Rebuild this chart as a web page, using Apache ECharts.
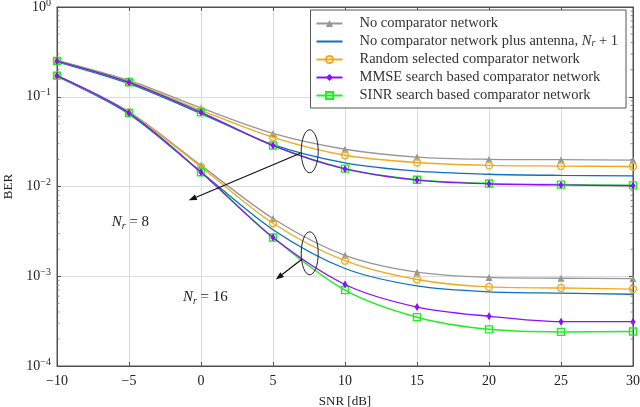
<!DOCTYPE html>
<html>
<head>
<meta charset="utf-8">
<script src="https://cdn.jsdelivr.net/npm/echarts@6/dist/echarts.min.js"></script>
<style>
html, body { margin: 0; padding: 0; background: #fff; }
#chart { width: 640px; height: 407px; }
</style>
</head>
<body>
<div id="chart"></div>
<script>
// SNR points (dB)
let snr = [-10, -5, 0, 5, 10, 15, 20, 25, 30];
let xTicks = [-10, -5, 0, 5, 10, 15, 20, 25, 30];

let names = [
    'No comparator network',
    'No comparator network plus antenna, N_r + 1',
    'Random selected comparator network',
    'MMSE search based comparator network',
    'SINR search based comparator network'
];

// N_r = 8
let gray8   = [0.255, 0.152, 0.075, 0.039, 0.026, 0.0213, 0.0201, 0.0199, 0.0197];
let blue8   = [0.245, 0.140, 0.065, 0.0292, 0.0183, 0.0148, 0.0137, 0.0133, 0.0131];
let orange8 = [0.250, 0.148, 0.0706, 0.0353, 0.0223, 0.0185, 0.0172, 0.0169, 0.0167];
let purple8 = [0.250, 0.145, 0.067, 0.0286, 0.0157, 0.0118, 0.0107, 0.0104, 0.0102];
let green8  = [0.250, 0.145, 0.067, 0.0286, 0.0158, 0.0119, 0.0108, 0.0105, 0.0103];

// N_r = 16
let gray16   = [0.172, 0.068, 0.0172, 0.0044, 0.00171, 0.00111, 0.00097, 0.00095, 0.00094];
let blue16   = [0.168, 0.064, 0.0145, 0.0033, 0.00122, 0.00078, 0.00067, 0.00065, 0.00063];
let orange16 = [0.172, 0.067, 0.0165, 0.0039, 0.00149, 0.00092, 0.00076, 0.00074, 0.00072];
let purple16 = [0.172, 0.066, 0.0144, 0.0027, 0.00081, 0.000454, 0.000358, 0.000312, 0.000312];
let green16  = [0.172, 0.066, 0.0144, 0.0027, 0.00070, 0.00035, 0.000256, 0.00024, 0.000242];

// annotations, in data coords [snr, ber]
let ell8 = [7.55, 0.0247];
let arrow8 = [[6.9, 0.0235], [-0.85, 0.00702]];
let label8 = [-4.9, 0.0040];
let ell16 = [7.55, 0.0018];
let arrow16 = [[7.0, 0.00155], [5.2, 0.00092]];
let label16 = [0.3, 0.00058];

const FONT = 'Liberation Serif';
const colors = ['#979797', '#0a72bd', '#f0aa22', '#8a10ff', '#1ef01e'];

function pts(ys) { return snr.map((x, i) => [x, ys[i]]); }

function mkSeries(idx, ys) {
    let c = colors[idx];
    let s = {
        name: names[idx],
        type: 'line',
        smooth: 0.3,
        data: pts(ys),
        lineStyle: { color: c, width: 1.3 },
        symbolSize: 6,
        z: 2 + idx
    };
    if (idx === 0) {
        s.symbol = 'triangle';
        s.itemStyle = { color: c };
        s.symbolSize = 7;
    } else if (idx === 1) {
        s.symbol = 'none';
        s.itemStyle = { color: c };
    } else if (idx === 2) {
        s.symbol = 'circle';
        s.symbolSize = 7;
        s.itemStyle = { color: 'rgba(255,255,255,0)', borderColor: c, borderWidth: 1.3 };
    } else if (idx === 3) {
        s.symbol = 'diamond';
        s.symbolSize = [5, 8];
        s.itemStyle = { color: c };
        s.z = 10;
    } else {
        s.symbol = 'rect';
        s.symbolSize = 7;
        s.lineStyle.width = 1.5;
        s.itemStyle = { color: 'rgba(255,255,255,0)', borderColor: c, borderWidth: 1.4 };
    }
    return s;
}

let myChart = echarts.init(document.getElementById('chart'));

let axisLineStyle = { onZero: false, lineStyle: { color: '#505050' } };

let option = {
    animation: false,
    backgroundColor: '#fff',
    grid: {
        left: 57, right: 7, top: 7, bottom: 41,
        containLabel: false,
        outerBoundsMode: 'none',
        show: true, borderColor: '#505050', borderWidth: 1
    },
    legend: {
        data: [
            names[0],
            { name: names[1], itemStyle: { opacity: 0 } },
            names[2], names[3], names[4]
        ],
        orient: 'vertical',
        right: 14,
        top: 10,
        backgroundColor: '#fff',
        borderColor: '#555',
        borderWidth: 1,
        borderRadius: 0,
        padding: [6, 8, 5, 5],
        itemGap: 3,
        itemWidth: 26,
        itemHeight: 9,
        textStyle: {
            fontFamily: FONT, fontSize: 14.5, color: '#333', lineHeight: 14,
            padding: [0, 0, 0, 12],
            rich: {
                i: { fontFamily: FONT, fontStyle: 'italic', fontSize: 14.5, color: '#333', lineHeight: 14 },
                s: { fontFamily: FONT, fontStyle: 'italic', fontSize: 10, color: '#333', lineHeight: 8, verticalAlign: 'bottom' },
                t: { fontFamily: FONT, fontSize: 14.5, color: '#333', lineHeight: 14 }
            }
        },
        formatter: function (name) {
            if (name === names[1]) {
                return '{t|No comparator network plus antenna, }{i|N}{s|r}{t| + 1}';
            }
            return name;
        }
    },
    xAxis: [{
        type: 'value',
        min: -10, max: 30, interval: 5,
        name: 'SNR [dB]',
        nameLocation: 'middle',
        nameGap: 29,
        nameTextStyle: { fontFamily: FONT, fontSize: 13, color: '#222' },
        axisLine: axisLineStyle,
        axisTick: { inside: true, length: 4, lineStyle: { color: '#505050' } },
        axisLabel: {
            fontFamily: FONT, fontSize: 14, color: '#222', margin: 8,
            formatter: v => xTicks.indexOf(v) >= 0 ? String(v).replace('-', '\u2212') : ''
        },
        splitLine: { lineStyle: { color: '#dcdcdc' } }
    }, {
        type: 'value', position: 'top',
        min: -10, max: 30, interval: 5,
        axisLine: axisLineStyle,
        axisTick: { inside: true, length: 4, lineStyle: { color: '#505050' } },
        axisLabel: { show: false },
        splitLine: { show: false }
    }],
    yAxis: [{
        type: 'log',
        logBase: 10,
        min: 1e-4, max: 1,
        name: 'BER',
        nameLocation: 'middle',
        nameGap: 40,
        nameTextStyle: { fontFamily: FONT, fontSize: 13, color: '#222' },
        axisLine: axisLineStyle,
        axisTick: { inside: true, length: 4, lineStyle: { color: '#505050' } },
        axisLabel: {
            margin: 6,
            formatter: function (v) {
                let e = Math.round(Math.log10(v));
                return '{b|10}{e|' + String(e).replace('-', '\u2212') + '}';
            },
            rich: {
                b: { fontFamily: FONT, fontSize: 14, color: '#222', lineHeight: 18 },
                e: { fontFamily: FONT, fontSize: 10, color: '#222', lineHeight: 9, verticalAlign: 'top' }
            }
        },
        splitLine: { lineStyle: { color: '#dcdcdc' } }
    }, {
        type: 'log', position: 'right',
        logBase: 10,
        min: 1e-4, max: 1,
        axisLine: axisLineStyle,
        axisTick: { inside: true, length: 4, lineStyle: { color: '#505050' } },
        axisLabel: { show: false },
        splitLine: { show: false }
    }],
    series: [
        mkSeries(0, gray8), mkSeries(1, blue8), mkSeries(2, orange8), mkSeries(3, purple8), mkSeries(4, green8),
        mkSeries(0, gray16), mkSeries(1, blue16), mkSeries(2, orange16), mkSeries(3, purple16), mkSeries(4, green16)
    ]
};
myChart.setOption(option);

// annotations and log minor ticks, placed through the axes
function px(p) { return myChart.convertToPixel({ xAxisIndex: 0, yAxisIndex: 0 }, p); }

function arrow(a, b) {
    let p0 = px(a), p1 = px(b);
    let ang = Math.atan2(p1[1] - p0[1], p1[0] - p0[0]);
    let L = 8, W = 3;
    let bx = p1[0] - L * Math.cos(ang), by = p1[1] - L * Math.sin(ang);
    return [{
        type: 'line', z: 50,
        shape: { x1: p0[0], y1: p0[1], x2: bx, y2: by },
        style: { stroke: '#111', lineWidth: 1.2 }
    }, {
        type: 'polygon', z: 50,
        shape: { points: [p1, [bx + W * Math.sin(ang), by - W * Math.cos(ang)], [bx - W * Math.sin(ang), by + W * Math.cos(ang)]] },
        style: { fill: '#111' }
    }];
}

function ellipse(c) {
    let p = px(c);
    return {
        type: 'ellipse', z: 50,
        shape: { cx: p[0], cy: p[1], rx: 8.5, ry: 21.5 },
        style: { fill: 'none', stroke: '#222', lineWidth: 1 }
    };
}

function nrLabel(c, n) {
    let p = px(c);
    return {
        type: 'text', z: 50,
        x: p[0], y: p[1],
        style: {
            text: '{i|N}{s|r}{t| = ' + n + '}',
            align: 'center', verticalAlign: 'middle',
            rich: {
                i: { fontFamily: FONT, fontStyle: 'italic', fontSize: 15, fill: '#222', lineHeight: 18 },
                s: { fontFamily: FONT, fontStyle: 'italic', fontSize: 10, fill: '#222', lineHeight: 10, verticalAlign: 'bottom' },
                t: { fontFamily: FONT, fontSize: 15, fill: '#222', lineHeight: 18 }
            }
        }
    };
}

let g = [];
g.push(ellipse(ell8), ellipse(ell16));
g = g.concat(arrow(arrow8[0], arrow8[1]), arrow(arrow16[0], arrow16[1]));
g.push(nrLabel(label8, 8), nrLabel(label16, 16));

let xl = px([-10, 1])[0], xr = px([30, 1])[0];
for (let d = -4; d < 0; d++) {
    for (let k = 2; k <= 9; k++) {
        let y = px([0, k * Math.pow(10, d)])[1];
        g.push({ type: 'line', z: 40, shape: { x1: xl, y1: y, x2: xl + 2.5, y2: y }, style: { stroke: '#707070', lineWidth: 0.8 } });
        g.push({ type: 'line', z: 40, shape: { x1: xr - 2.5, y1: y, x2: xr, y2: y }, style: { stroke: '#707070', lineWidth: 0.8 } });
    }
}
myChart.setOption({ graphic: g });
</script>
</body>
</html>
